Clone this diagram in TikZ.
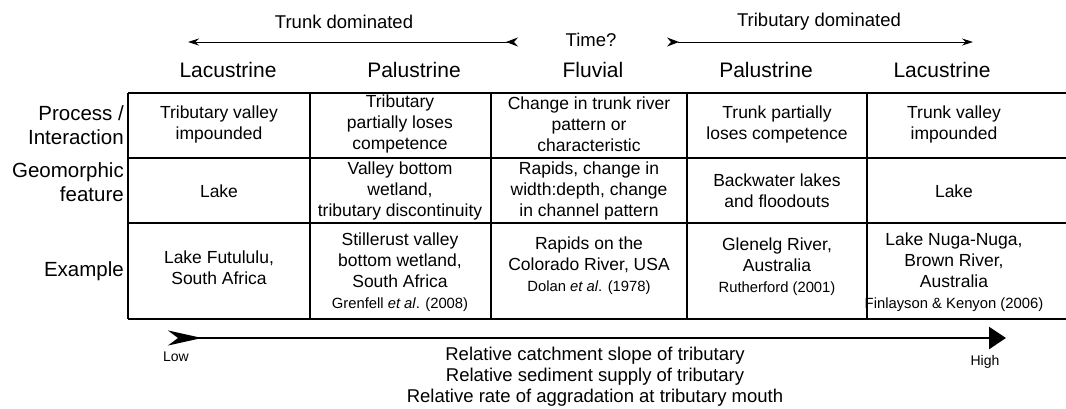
\documentclass[tikz,border=0pt]{standalone}
\usepackage{fontspec}
\setmainfont{Liberation Sans}
\usetikzlibrary{arrows.meta}
\newcommand{\drawthick}{\draw[line width=1.4pt]}
\newcommand{\celltext}[4]{\node[cell] (#1) at (#2,#3) {#4};}
\newcommand{\reftext}[1]{{\fontsize{14.8}{16}\selectfont #1}}
\tikzset{
  cell/.style={align=center, inner sep=0pt, font=\fontsize{17.5}{21}\selectfont},
  colhead/.style={inner sep=0pt, font=\fontsize{21}{24}\selectfont},
  rowlabel/.style={align=right, anchor=east, inner sep=0pt, font=\fontsize{20.5}{24}\selectfont},
  toplabel/.style={inner sep=0pt, font=\fontsize{18.5}{21}\selectfont},
  timearrow/.style={line width=0.9pt, {Stealth[reversed,length=12pt,width=9pt,inset=4pt]}-{Stealth[length=11pt,width=7pt]}},
  gradearrow/.style={line width=2.6pt, {Stealth[reversed,length=34pt,width=15pt,inset=10pt]}-{Triangle[length=17pt,width=22pt]}}
}
\begin{document}
\begin{tikzpicture}[x=1pt, y=-1pt]
\useasboundingbox (0,0) rectangle (1066,408);
% direction of control
\node[toplabel] (trunkdom) at (344,22) {Trunk dominated};
\node[toplabel] (tribdom) at (819,22) {Tributary dominated};
\node[toplabel] (time) at (591,40) {Time?};
\coordinate (trunktail) at (518,42);
\coordinate (trunkhead) at (188,42);
\coordinate (tribtail) at (667,42);
\coordinate (tribhead) at (973,42);
\draw[timearrow] (trunktail) -- (trunkhead);
\draw[timearrow] (tribtail) -- (tribhead);
% column headings
\node[colhead] (lacA) at (228,70) {Lacustrine};
\node[colhead] (palA) at (414,70) {Palustrine};
\node[colhead] (fluv) at (593,70) {Fluvial};
\node[colhead] (palB) at (766,70) {Palustrine};
\node[colhead] (lacB) at (942,70) {Lacustrine};
% table
\foreach \y in {93,158,223,319}{
  \drawthick (128,\y)--(1066,\y);
}
\foreach \x in {128,310,491,687,867}{
  \drawthick (\x,93)--(\x,319);
}
\node[rowlabel] (process) at (124,125) {Process /\\Interaction};
\node[rowlabel] (geomorph) at (124,182) {Geomorphic\\feature};
\node[rowlabel] (example) at (124,271) {Example};
\celltext{procA}{219}{124}{Tributary valley\\impounded}
\celltext{procB}{400}{124}{Tributary\\partially loses\\competence}
\celltext{procC}{589}{124}{Change in trunk river\\pattern or\\characteristic}
\celltext{procD}{777}{124}{Trunk partially\\loses competence}
\celltext{procE}{954}{124}{Trunk valley\\impounded}
\celltext{featA}{219}{191}{Lake}
\celltext{featB}{400}{191}{Valley bottom\\wetland,\\tributary discontinuity}
\celltext{featC}{589}{191}{Rapids, change in\\width:depth, change\\in channel pattern}
\celltext{featD}{777}{191}{Backwater lakes\\and floodouts}
\celltext{featE}{954}{191}{Lake}
\celltext{exA}{219}{268}{Lake Futululu,\\South Africa}
\celltext{exB}{400}{272}{Stillerust valley\\bottom wetland,\\South Africa\\\reftext{Grenfell \textit{et al}. (2008)}}
\celltext{exC}{589}{266}{Rapids on the\\Colorado River, USA\\\reftext{Dolan \textit{et al}. (1978)}}
\celltext{exD}{777}{267}{Glenelg River,\\Australia\\\reftext{Rutherford (2001)}}
\celltext{exE}{954}{272}{Lake Nuga-Nuga,\\Brown River,\\Australia\\\reftext{Finlayson \& Kenyon (2006)}}
% tributary gradient
\coordinate (lowend) at (168,338);
\coordinate (highend) at (1006,338);
\draw[gradearrow] (lowend) -- (highend);
\node[inner sep=0pt, font=\fontsize{14}{16}\selectfont] (low) at (176,357) {Low};
\node[inner sep=0pt, font=\fontsize{14}{16}\selectfont] (high) at (985,362) {High};
\node[cell, font=\fontsize{18.5}{21}\selectfont] (gradient) at (595,377) {Relative catchment slope of tributary\\Relative sediment supply of tributary\\Relative rate of aggradation at tributary mouth};
\end{tikzpicture}
\end{document}
